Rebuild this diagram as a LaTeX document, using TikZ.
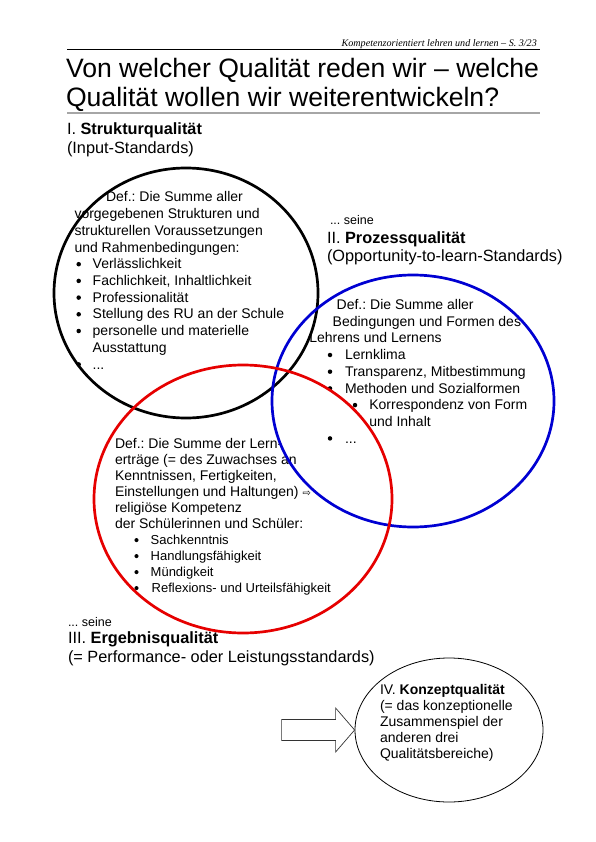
\documentclass[tikz,border=0pt]{standalone}
\usepackage{fontspec}
\setmainfont{Liberation Sans}
\newfontfamily\hdrfont{Liberation Serif}
\newfontfamily\symfont{DejaVu Sans}
\usetikzlibrary{shapes.geometric}
\definecolor{vennblue}{RGB}{0,0,210}
\definecolor{vennred}{RGB}{230,0,0}
\frenchspacing
\begin{document}
\begin{tikzpicture}[x=1pt,y=-1pt,
  tl/.style={anchor=base west, inner sep=0pt, outer sep=0pt, font=\fontsize{14}{16}\selectfont},
  tlsmall/.style={tl, font=\fontsize{13}{15}\selectfont},
  tlseine/.style={tl, font=\fontsize{12.5}{15}\selectfont},
  head/.style={anchor=base west, inner sep=0pt, outer sep=0pt, font=\fontsize{16.3}{19}\selectfont},
  titlefont/.style={anchor=base west, inner sep=0pt, outer sep=0pt, font=\fontsize{26.6}{29}\selectfont},
  bulbase/.style={circle, fill=black, inner sep=0pt, outer sep=0pt},
  bul/.style={bulbase, minimum size=4.5pt, yshift=4.6pt},
  bulsmall/.style={bulbase, minimum size=4.1pt, yshift=4.2pt},
  venn/.style={ellipse, inner sep=0pt, line width=2.7pt},
]
\useasboundingbox (0,0) rectangle (595,842);
\fill[white] (0,0) rectangle (595,842);

% header
\node[anchor=base east, inner sep=0pt, font=\hdrfont\itshape\fontsize{10.1}{12}\selectfont] (hdr) at (537,46.5) {Kompetenzorientiert lehren und lernen – S.~3/23};
\draw[line width=0.7pt] (67,49.5) -- (540,49.5);

% title
\node[titlefont] (title1) at (66,78) {Von welcher Qualität reden wir – welche};
\node[titlefont] (title2) at (66,107) {Qualität wollen wir weiterentwickeln?};
\draw[black!35, line width=1.5pt] (67,113) -- (540,113);

% headings
\node[head] (h1a) at (67,135) {I. \textbf{Strukturqualität}};
\node[head] (h1b) at (67,154) {(Input-Standards)};

\node[tlseine] (s2) at (330,225) {... seine};
\node[head] (h2a) at (327,243) {II. \textbf{Prozessqualität}};
\node[head] (h2b) at (327,261) {(Opportunity-to-learn-Standards)};

\node[tlseine] (s3) at (68,626) {... seine};
\node[head] (h3a) at (68,643.5) {III. \textbf{Ergebnisqualität}};
\node[head] (h3b) at (68,662.5) {(= Performance- oder Leistungsstandards)};

% structure text
\node[tl] (a1) at (106,202) {Def.: Die Summe aller};
\node[tl] (a2) at (74.5,218.7) {vorgegebenen Strukturen und};
\node[tl] (a3) at (74.5,235.4) {strukturellen Voraussetzungen};
\node[tl] (a4) at (74.5,252.1) {und Rahmenbedingungen:};
\node[bul] (ab1) at (78.7,268.8) {};
\node[tl] (a5) at (92.7,268.8) {Verlässlichkeit};
\node[bul] (ab2) at (78.7,285.5) {};
\node[tl] (a6) at (92.7,285.5) {Fachlichkeit, Inhaltlichkeit};
\node[bul] (ab3) at (78.7,302.2) {};
\node[tl] (a7) at (92.7,302.2) {Professionalität};
\node[bul] (ab4) at (78.7,318.9) {};
\node[tl] (a8) at (92.7,318.9) {Stellung des RU an der Schule};
\node[bul] (ab5) at (78.7,335.6) {};
\node[tl] (a9) at (92.7,335.6) {personelle und materielle};
\node[tl] (a10) at (92.7,352.3) {Ausstattung};
\node[bul] (ab6) at (78.7,369) {};
\node[tl] (a11) at (92.7,369) {...};

% process text
\node[tl] (b1) at (336.7,309.5) {Def.: Die Summe aller};
\node[tl] (b2) at (332.7,326.2) {Bedingungen und Formen des};
\node[tl] (b3) at (309.3,342.9) {Lehrens und Lernens};
\node[bul] (bb1) at (330,359.6) {};
\node[tl] (b4) at (345,359.6) {Lernklima};
\node[bul] (bb2) at (330,376.3) {};
\node[tl] (b5) at (345,376.3) {Transparenz, Mitbestimmung};
\node[bul] (bb3) at (330,393) {};
\node[tl] (b6) at (345,393) {Methoden und Sozialformen};
\node[bul] (bb4) at (355,409.7) {};
\node[tl] (b7) at (369.3,409.7) {Korrespondenz von Form};
\node[tl] (b8) at (369.3,426.4) {und Inhalt};
\node[bul] (bb5) at (330,443) {};
\node[tl] (b9) at (345,443) {...};

% result text
\node[tl] (c1) at (115,448.3) {Def.: Die Summe der Lern-};
\node[tl] (c2) at (115,464.3) {erträge (= des Zuwachses an};
\node[tl] (c3) at (115,480.3) {Kenntnissen, Fertigkeiten,};
\node[tl] (c4) at (115,496.3) {Einstellungen und Haltungen) {\symfont\fontsize{10}{12}\selectfont ⇨}};
\node[tl] (c5) at (115,512.3) {religiöse Kompetenz};
\node[tl] (c6) at (115,528.3) {der Schülerinnen und Schüler:};
\node[bulsmall] (cb1) at (136.5,544.3) {};
\node[tlsmall] (c7) at (150.7,544.3) {Sachkenntnis};
\node[bulsmall] (cb2) at (136.5,560.3) {};
\node[tlsmall] (c8) at (150.7,560.3) {Handlungsfähigkeit};
\node[bulsmall] (cb3) at (136.5,576.3) {};
\node[tlsmall] (c9) at (150.7,576.3) {Mündigkeit};
\node[bulsmall] (cb4) at (136.5,592.3) {};
\node[tlsmall] (c10) at (151.7,592.3) {Reflexions- und Urteilsfähigkeit};

% concept text
\node[tl] (d1) at (380,694) {IV. \textbf{Konzeptqualität}};
\node[tl] (d2) at (380,710) {(= das konzeptionelle};
\node[tl] (d3) at (380,726) {Zusammenspiel der};
\node[tl] (d4) at (380,742) {anderen drei};
\node[tl] (d5) at (380,758) {Qualitätsbereiche)};

% ellipses
\node[venn, draw=black, minimum width=264pt, minimum height=250pt] (struct) at (186,293) {};
\node[venn, draw=vennblue, minimum width=282pt, minimum height=252pt] (process) at (413,401) {};
\node[venn, draw=vennred, minimum width=298pt, minimum height=268pt] (result) at (243,499) {};
\node[ellipse, draw=black, line width=0.8pt, inner sep=0pt, minimum width=188pt, minimum height=144pt] (concept) at (449,730) {};

% block arrow into concept ellipse
\draw[line width=0.7pt, black!80, fill=white] (concept.west) -- ++(-19,-22) -- ++(0,11.5) -- ++(-54,0) -- ++(0,21) -- ++(54,0) -- ++(0,11.5) -- cycle;
\end{tikzpicture}
\end{document}
